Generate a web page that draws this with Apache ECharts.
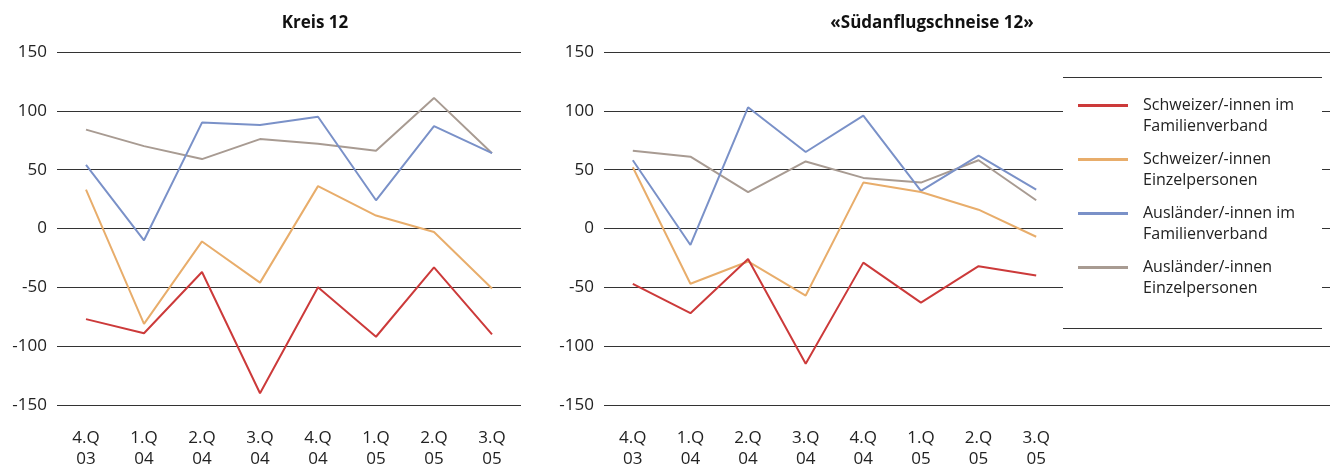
<!DOCTYPE html>
<html>
<head>
<meta charset="utf-8">
<script src="https://cdn.jsdelivr.net/npm/echarts@6/dist/echarts.min.js"></script>
<style>
html,body{margin:0;padding:0;background:#fff;}
#c{width:1330px;height:470px;}
</style>
</head>
<body>
<div id="c"></div>
<script>
const categories = ['4.Q\n03','1.Q\n04','2.Q\n04','3.Q\n04','4.Q\n04','1.Q\n05','2.Q\n05','3.Q\n05'];
const seriesNames = ['Schweizer/-innen im\nFamilienverband','Schweizer/-innen\nEinzelpersonen','Ausländer/-innen im\nFamilienverband','Ausländer/-innen\nEinzelpersonen'];
const titles = ['Kreis 12', '«Südanflugschneise 12»'];

// Kreis 12
const k12SchweizFam   = [-77, -89, -37, -140, -50, -92, -33, -90];
const k12SchweizEinz  = [33, -81, -11, -46, 36, 11, -3, -51];
const k12AuslFam      = [54, -10, 90, 88, 95, 24, 87, 64];
const k12AuslEinz     = [84, 70, 59, 76, 72, 66, 111, 64];

// Südanflugschneise 12
const sasSchweizFam   = [-47, -72, -26, -115, -29, -63, -32, -40];
const sasSchweizEinz  = [52, -47, -28, -57, 39, 31, 16, -7];
const sasAuslFam      = [58, -14, 103, 65, 96, 32, 62, 33];
const sasAuslEinz     = [66, 61, 31, 57, 43, 39, 58, 24];

const colors = ['#cc3a3a', '#e8ad6b', '#7a91c8', '#a89b92'];
const FONT = '"Open Sans", "Noto Sans", sans-serif';

const chart = echarts.init(document.getElementById('c'));

function yAx(gridIndex, showLabels, showSplit) {
  return {
    type: 'value', gridIndex: gridIndex, min: -150, max: 150, interval: 50,
    axisLine: {show: false}, axisTick: {show: false},
    axisLabel: {show: showLabels, fontFamily: FONT, fontSize: 17, color: '#222', margin: 10},
    splitLine: {show: showSplit, lineStyle: {color: '#333', width: 1}}
  };
}
function xAx(gridIndex) {
  return {
    type: 'category', gridIndex: gridIndex, data: categories, boundaryGap: true,
    axisLine: {show: false}, axisTick: {show: false},
    axisLabel: {interval: 0, fontFamily: FONT, fontSize: 17, lineHeight: 21, color: '#222', margin: 23}
  };
}
function line(name, data, idx, ci) {
  return {
    name: name, type: 'line', xAxisIndex: idx, yAxisIndex: idx, data: data,
    symbol: 'none', lineStyle: {width: 2, color: colors[ci]}, itemStyle: {color: colors[ci]},
    animation: false, z: 2
  };
}

chart.setOption({
  animation: false,
  title: [
    {text: titles[0], left: 310, top: 10, textAlign: 'center',
     textStyle: {fontFamily: FONT, fontSize: 17, fontWeight: 'bold', color: '#111'}},
    {text: titles[1], left: 927, top: 10, textAlign: 'center',
     textStyle: {fontFamily: FONT, fontSize: 17, fontWeight: 'bold', color: '#111'}}
  ],
  grid: [
    {left: 57, width: 464, top: 52, height: 353},
    {left: 604, width: 461, top: 52, height: 353},
    {left: 604, width: 726, top: 52, height: 353}
  ],
  xAxis: [xAx(0), xAx(1), {type: 'value', gridIndex: 2, show: false, min: 0, max: 1}],
  yAxis: [yAx(0, true, true), yAx(1, true, false), yAx(2, false, true)],
  legend: {
    orient: 'vertical', left: 1078, top: 74, padding: 0, itemGap: -9,
    icon: 'rect', itemWidth: 50, itemHeight: 3, selectedMode: false,
    data: seriesNames,
    formatter: function (name) { return '\n' + name; },
    textStyle: {fontFamily: FONT, fontSize: 16, lineHeight: 21, color: '#222', padding: [0, 0, 0, 10]}
  },
  graphic: [
    {type: 'rect', z: 1, shape: {x: 1063, y: 77, width: 259, height: 252}, style: {fill: '#fff'}},
    {type: 'line', z: 1, shape: {x1: 1063, y1: 77.5, x2: 1322, y2: 77.5}, style: {stroke: '#333', lineWidth: 1}},
    {type: 'line', z: 1, shape: {x1: 1063, y1: 328.5, x2: 1322, y2: 328.5}, style: {stroke: '#333', lineWidth: 1}}
  ],
  series: [
    line(seriesNames[3], k12AuslEinz, 0, 3),
    line(seriesNames[2], k12AuslFam, 0, 2),
    line(seriesNames[1], k12SchweizEinz, 0, 1),
    line(seriesNames[0], k12SchweizFam, 0, 0),
    line(seriesNames[3], sasAuslEinz, 1, 3),
    line(seriesNames[2], sasAuslFam, 1, 2),
    line(seriesNames[1], sasSchweizEinz, 1, 1),
    line(seriesNames[0], sasSchweizFam, 1, 0)
  ]
});
</script>
</body>
</html>
